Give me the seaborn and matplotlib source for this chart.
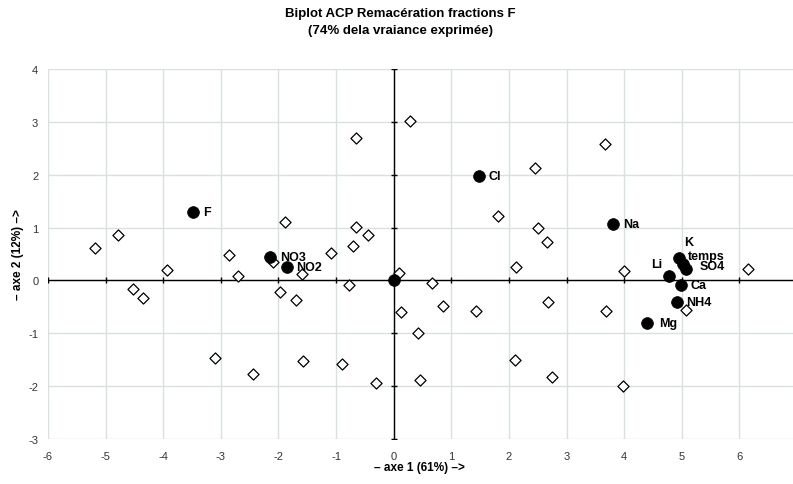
import numpy as np
import pandas as pd
import matplotlib
matplotlib.use("Agg")
import matplotlib.pyplot as plt
import seaborn as sns

# Observations (individus) - diamonds
obs_x = [-5.19, -4.79, -3.93, -2.85, -2.70, -1.88, -2.09, -1.59, -1.08, -0.65,
         -0.65, -0.70, -0.44, 0.10,
         -4.52, -4.35, -1.98, -1.69, -0.78, -3.11, -2.45, -1.57, -0.90, -0.31, 0.12,
         0.28, 3.66, 2.45, 1.81, 2.51, 2.66, 2.12, 3.99, 6.15,
         0.67, 0.86, 1.42, 2.67, 3.69, 5.08, 0.43, 2.11, 0.46, 2.74, 3.98]
obs_y = [0.61, 0.86, 0.20, 0.48, 0.08, 1.11, 0.34, 0.12, 0.52, 2.70,
         1.02, 0.66, 0.86, 0.14,
         -0.16, -0.34, -0.21, -0.37, -0.08, -1.47, -1.77, -1.52, -1.59, -1.94, -0.59,
         3.01, 2.59, 2.13, 1.22, 1.00, 0.72, 0.25, 0.18, 0.22,
         -0.04, -0.48, -0.58, -0.40, -0.58, -0.55, -1.00, -1.51, -1.88, -1.83, -2.00]

# Variables - filled circles
var_names = ["F", "NO3", "NO2", "", "Cl", "Na", "K", "temps", "SO4", "Li", "Ca", "NH4", "Mg"]
var_x = [-3.48, -2.14, -1.86, 0.00, 1.48, 3.81, 4.96, 5.02, 5.08, 4.77, 4.98, 4.91, 4.39]
var_y = [1.30, 0.44, 0.25, 0.00, 1.98, 1.07, 0.42, 0.32, 0.21, 0.08, -0.08, -0.41, -0.81]

x_ticks = list(range(-6, 7))
y_ticks = list(range(-3, 5))

title_lines = ["Biplot ACP Remacération fractions F", "(74% dela vraiance exprimée)"]
xlabel = "– axe 1 (61%) –>"
ylabel = "– axe 2 (12%) –>"

# label offsets in pixels (dx, dy, ha)
label_offsets = {
    "F": (10, 0, "left"), "NO3": (10, 0, "left"), "NO2": (10, 0, "left"),
    "Cl": (10, 0, "left"), "Na": (10, 0, "left"), "K": (5, 16, "left"),
    "temps": (5, 8, "left"), "SO4": (13, 3, "left"), "Li": (-6, 12, "right"),
    "Ca": (10, 0, "left"), "NH4": (10, 0, "left"), "Mg": (12, 0, "left"),
}

sns.set_theme(style="white")
plt.rcParams["font.family"] = ["Liberation Sans", "DejaVu Sans"]
plt.rcParams["axes.unicode_minus"] = False
plt.rcParams["text.color"] = "black"

fig = plt.figure(figsize=(7.93, 4.85), dpi=100)
ax = fig.add_axes([48 / 793, 1 - 440 / 485, 745 / 793, 370 / 485])

ax.set_xlim(-6, 6.93)
ax.set_ylim(-3, 4)
ax.set_xticks(x_ticks)
ax.set_yticks(y_ticks)
ax.grid(True, color="#d9e0e0", linewidth=1.0)
ax.set_axisbelow(True)
for s in ax.spines.values():
    s.set_visible(False)
ax.tick_params(axis="both", length=0, labelsize=8, labelcolor="#333333")
ax.tick_params(axis="x", pad=9)
ax.tick_params(axis="y", pad=7)

# axes through origin with tick marks
ax.axhline(0, color="black", linewidth=1.0, zorder=2)
ax.axvline(0, color="black", linewidth=1.0, zorder=2)
ax.plot(x_ticks, np.zeros(len(x_ticks)), linestyle="none", marker="|",
        color="black", markersize=4, markeredgewidth=1.0, zorder=2)
ax.plot(np.zeros(len(y_ticks)), y_ticks, linestyle="none", marker="_",
        color="black", markersize=5, markeredgewidth=1.0, zorder=2)

obs = pd.DataFrame({"x": obs_x, "y": obs_y})
var = pd.DataFrame({"x": var_x, "y": var_y, "name": var_names})

sns.scatterplot(data=obs, x="x", y="y", marker="D", s=32, color="white",
                edgecolor="black", linewidth=0.9, ax=ax, zorder=3)
sns.scatterplot(data=var, x="x", y="y", marker="o", s=72, color="black",
                edgecolor="black", linewidth=0.5, ax=ax, zorder=4)

for n, xv, yv in zip(var_names, var_x, var_y):
    if not n:
        continue
    dx, dy, ha = label_offsets[n]
    ax.annotate(n, (xv, yv), xytext=(dx, dy), textcoords="offset pixels",
                ha=ha, va="center", fontsize=9, fontweight="bold", color="black",
                zorder=5)

ax.set_xlabel("")
ax.set_ylabel("")
fig.text(419.5 / 793, 1 - 468 / 485, xlabel, ha="center", va="center",
         fontsize=8.5, fontweight="bold", color="black")
fig.text(18 / 793, 1 - 255 / 485, ylabel, ha="center", va="center",
         rotation=90, fontsize=8.5, fontweight="bold", color="black")
fig.text(400 / 793, 1 - 14 / 485, title_lines[0], ha="center", va="center",
         fontsize=9.5, fontweight="bold", color="black")
fig.text(400 / 793, 1 - 31 / 485, title_lines[1], ha="center", va="center",
         fontsize=9.5, fontweight="bold", color="black")

fig.savefig("out.png", dpi=100)
